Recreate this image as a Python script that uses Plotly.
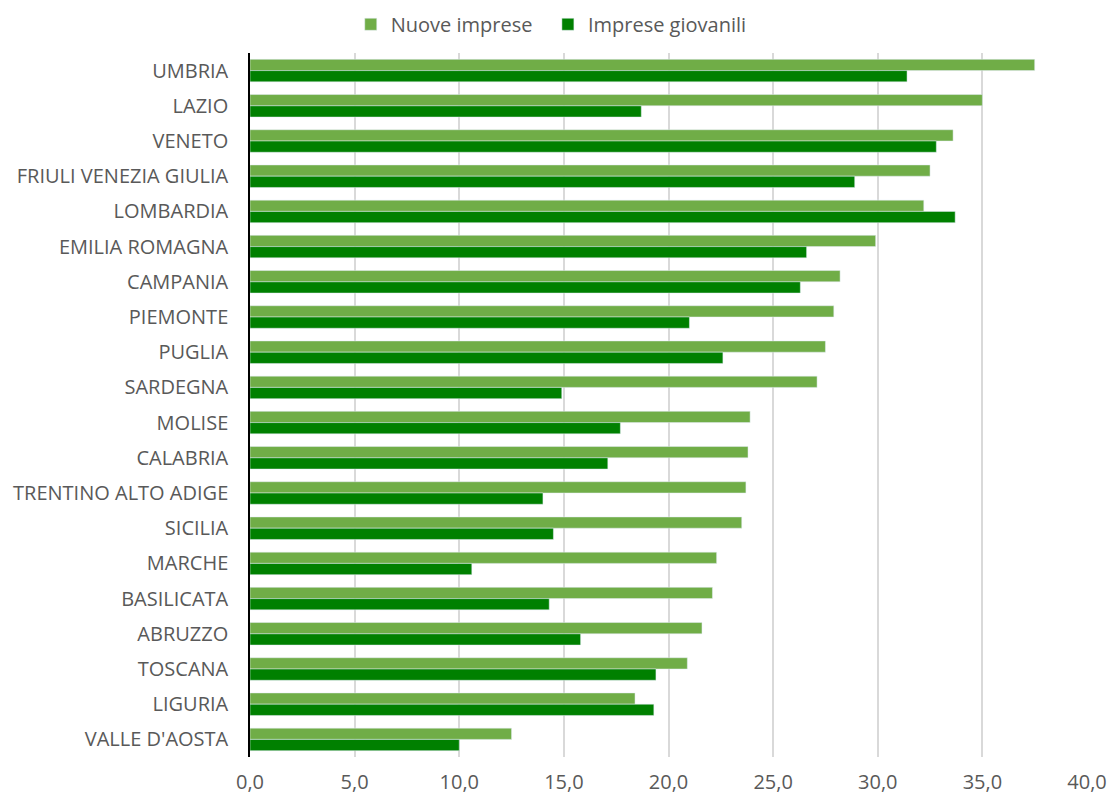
import plotly.graph_objects as go

regions = ["UMBRIA", "LAZIO", "VENETO", "FRIULI VENEZIA GIULIA", "LOMBARDIA",
           "EMILIA ROMAGNA", "CAMPANIA", "PIEMONTE", "PUGLIA", "SARDEGNA",
           "MOLISE", "CALABRIA", "TRENTINO ALTO ADIGE", "SICILIA", "MARCHE",
           "BASILICATA", "ABRUZZO", "TOSCANA", "LIGURIA", "VALLE D'AOSTA"]

nuove_imprese = [37.5, 35.0, 33.6, 32.5, 32.2, 29.9, 28.2, 27.9, 27.5, 27.1,
                 23.9, 23.8, 23.7, 23.5, 22.3, 22.1, 21.6, 20.9, 18.4, 12.5]

imprese_giovanili = [31.4, 18.7, 32.8, 28.9, 33.7, 26.6, 26.3, 21.0, 22.6, 14.9,
                     17.7, 17.1, 14.0, 14.5, 10.6, 14.3, 15.8, 19.4, 19.3, 10.0]

x_ticks = [0, 5, 10, 15, 20, 25, 30, 35, 40]
x_ticklabels = ["0,0", "5,0", "10,0", "15,0", "20,0", "25,0", "30,0", "35,0", "40,0"]

font_family = "Open Sans"
grey = "#595959"

fig = go.Figure()

# light bar sits on top in each pair (y axis reversed)
# trailing nbsp widen the gap between the two legend entries
fig.add_trace(go.Bar(y=regions, x=nuove_imprese, name="Nuove imprese\u00a0\u00a0",
                     orientation="h", marker_color="#70AD47"))
fig.add_trace(go.Bar(y=regions, x=imprese_giovanili, name="Imprese giovanili",
                     orientation="h", marker_color="#008000"))

fig.update_layout(
    width=1110, height=796,
    margin=dict(l=250, r=23, t=53, b=39),
    barmode="group", bargap=0.36, bargroupgap=0,
    plot_bgcolor="white", paper_bgcolor="white",
    font=dict(family=font_family, size=20, color=grey),
    legend=dict(orientation="h", xref="container", x=0.316, xanchor="left",
                yref="container", y=0.994, yanchor="top",
                font=dict(size=20, color=grey), itemwidth=30, traceorder="normal"),
)

fig.update_xaxes(range=[0, 40], tickvals=x_ticks, ticktext=x_ticklabels,
                 showgrid=True, gridcolor="#D9D9D9", gridwidth=1.5,
                 zeroline=False, showline=False, ticks="", ticklabelstandoff=11,
                 automargin=False)
fig.update_yaxes(autorange="reversed", showline=True, linecolor="black", linewidth=1.5,
                 ticks="", showgrid=False, ticklabelstandoff=16, automargin=False)

# drop the default page margin so the 1110px figure fits the window exactly
fig.write_html("out.html", config={"displayModeBar": False},
               post_script="document.body.style.margin='0';document.body.style.overflow='hidden';")
